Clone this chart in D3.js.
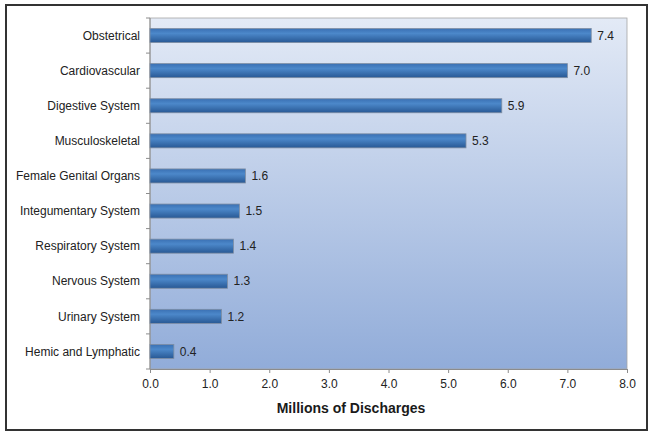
<!DOCTYPE html>
<html lang="en">
<head>
<meta charset="UTF-8">
<title>Discharges by category</title>
<style>
  body { margin: 0; background: #fff; font-family: 'Liberation Sans', Arial, sans-serif; }
</style>
</head>
<body>
<div id="chart"></div>
<script src="https://cdn.jsdelivr.net/npm/d3@7"></script>
<script>
var categories = ['Obstetrical', 'Cardiovascular', 'Digestive System', 'Musculoskeletal',
                  'Female Genital Organs', 'Integumentary System', 'Respiratory System',
                  'Nervous System', 'Urinary System', 'Hemic and Lymphatic'];
var values = [7.4, 7.0, 5.9, 5.3, 1.6, 1.5, 1.4, 1.3, 1.2, 0.4];
var xTicks = [0, 1, 2, 3, 4, 5, 6, 7, 8];

var W = 654, H = 437;
// plot area edges (note: "top" is reserved on window)
var pL = 150, pR = 627, pT = 18, pB = 369;

var svg = d3.select('#chart').append('svg').attr('width', W).attr('height', H);

var defs = svg.append('defs');
var bg = defs.append('linearGradient').attr('id', 'bg').attr('x1', 0).attr('y1', 0).attr('x2', 0).attr('y2', 1);
bg.append('stop').attr('offset', '0%').attr('stop-color', '#e3eaf6');
bg.append('stop').attr('offset', '100%').attr('stop-color', '#91acd9');
var bar = defs.append('linearGradient').attr('id', 'bar').attr('x1', 0).attr('y1', 0).attr('x2', 0).attr('y2', 1);
bar.append('stop').attr('offset', '0%').attr('stop-color', '#3a70b3');
bar.append('stop').attr('offset', '35%').attr('stop-color', '#4c88ca');
bar.append('stop').attr('offset', '100%').attr('stop-color', '#285894');

// outer frame
svg.append('rect').attr('x', 6).attr('y', 5).attr('width', 641).attr('height', 425)
  .attr('fill', '#fff').attr('stroke', '#333').attr('stroke-width', 2);

var x = d3.scaleLinear().domain([0, 8]).range([pL, pR]);
var y = d3.scaleBand().domain(categories).range([pT, pB]).paddingInner(0.6).paddingOuter(0.3);

svg.append('rect').attr('x', pL).attr('y', pT).attr('width', pR - pL).attr('height', pB - pT)
  .attr('fill', 'url(#bg)').attr('stroke', '#a6a6a6').attr('stroke-width', 0.8);

// y axis ticks at band boundaries
var step = (pB - pT) / categories.length;
var yAxis = svg.append('g');
yAxis.append('line').attr('x1', pL).attr('x2', pL).attr('y1', pT).attr('y2', pB)
  .attr('stroke', '#8c8c8c');
d3.range(categories.length + 1).forEach(function (i) {
  yAxis.append('line').attr('x1', pL - 4).attr('x2', pL)
    .attr('y1', pT + i * step).attr('y2', pT + i * step).attr('stroke', '#8c8c8c');
});
yAxis.selectAll('text.cat').data(categories).join('text')
  .attr('class', 'cat')
  .attr('x', pL - 10)
  .attr('y', function (d) { return y(d) + y.bandwidth() / 2; })
  .attr('dy', '0.35em')
  .attr('text-anchor', 'end')
  .attr('font-size', 12)
  .attr('fill', '#222')
  .text(function (d) { return d; });

// x axis
var xAxis = svg.append('g').attr('transform', 'translate(0,' + pB + ')')
  .call(d3.axisBottom(x).tickValues(xTicks).tickSize(4).tickPadding(6).tickFormat(d3.format('.1f')));
xAxis.select('.domain').attr('stroke', '#8c8c8c');
xAxis.selectAll('.tick line').attr('stroke', '#8c8c8c');
xAxis.selectAll('.tick text').attr('font-size', 12).attr('fill', '#222')
  .attr('font-family', "'Liberation Sans', Arial, sans-serif");

svg.append('text').attr('x', 351).attr('y', 413).attr('text-anchor', 'middle')
  .attr('font-size', 14).attr('font-weight', 'bold').attr('fill', '#1a1a1a')
  .text('Millions of Discharges');

// bars
var data = categories.map(function (c, i) { return { cat: c, v: values[i] }; });
svg.selectAll('rect.bar').data(data).join('rect')
  .attr('class', 'bar')
  .attr('x', x(0))
  .attr('y', function (d) { return y(d.cat); })
  .attr('width', function (d) { return x(d.v) - x(0); })
  .attr('height', y.bandwidth())
  .attr('fill', 'url(#bar)')
  .attr('stroke', '#7f8ea3')
  .attr('stroke-width', 0.8);

svg.selectAll('text.val').data(data).join('text')
  .attr('class', 'val')
  .attr('x', function (d) { return x(d.v) + 6; })
  .attr('y', function (d) { return y(d.cat) + y.bandwidth() / 2; })
  .attr('dy', '0.35em')
  .attr('font-size', 12)
  .attr('fill', '#222')
  .text(function (d) { return d3.format('.1f')(d.v); });
</script>
</body>
</html>
